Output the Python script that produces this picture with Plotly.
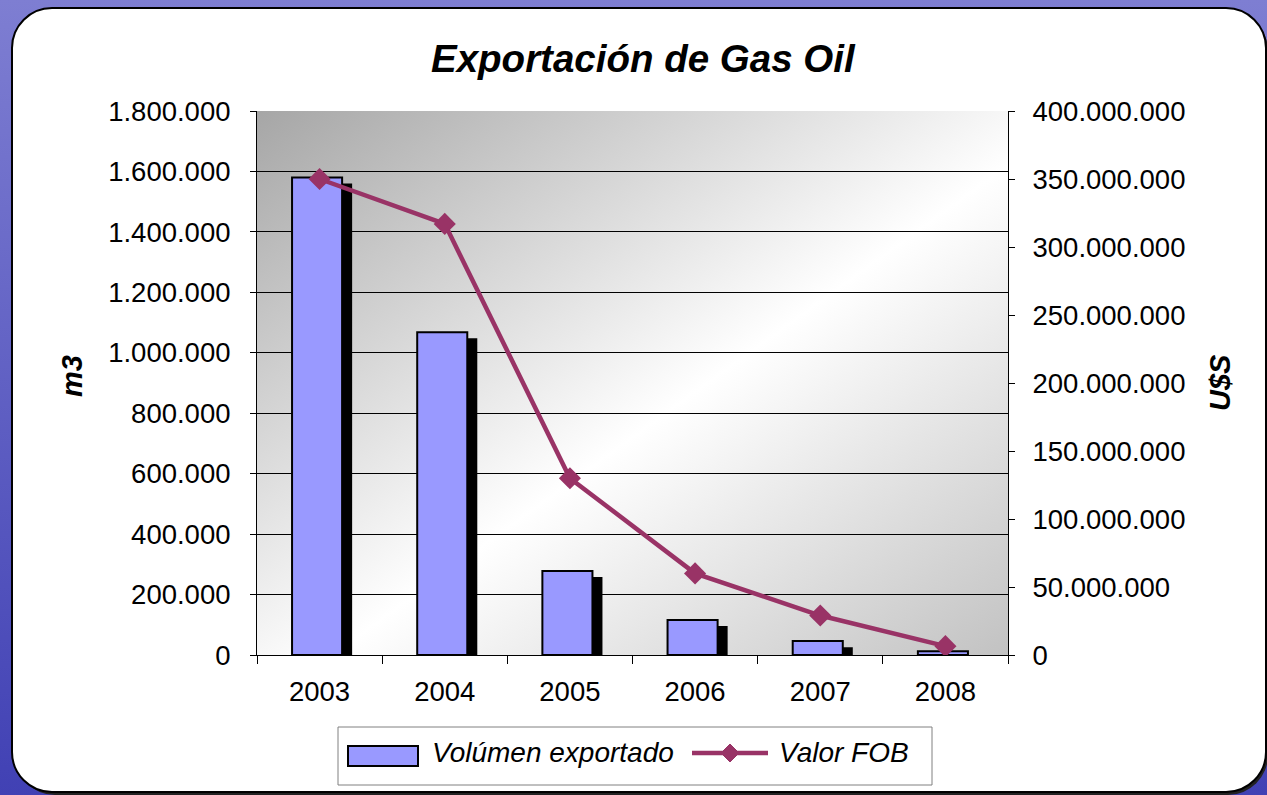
import base64
import plotly.graph_objects as go

# ---- data ----
years = ["2003", "2004", "2005", "2006", "2007", "2008"]
volumen_m3 = [1580000, 1068000, 278000, 116000, 46000, 12000]
valor_fob_usd = [350000000, 317000000, 130000000, 60000000, 29000000, 6500000]
title_text = "Exportación de Gas Oil"
legend_labels = ["Volúmen exportado", "Valor FOB"]
left_title = "m3"
right_title = "U$S"

W, H = 1267, 795
L, R, T, B = 257, 1008, 111, 655
PW, PH = R - L, B - T


def px(x):
    return (x - L) / PW


def py(y):
    return (B - y) / PH


FONT = "Liberation Sans, Arial, sans-serif"
BLUE = "#9999ff"
PLUM = "#993366"

svg = f"""<svg xmlns='http://www.w3.org/2000/svg' width='{W}' height='{H}' viewBox='0 0 {W} {H}'>
<defs>
<linearGradient id='bg' x1='0' y1='0' x2='0' y2='1'>
<stop offset='0' stop-color='#7e7ed2'/><stop offset='1' stop-color='#4141b4'/></linearGradient>
<linearGradient id='pa' x1='0' y1='0' x2='1' y2='1'>
<stop offset='0' stop-color='#a6a6a6'/><stop offset='0.55' stop-color='#ffffff'/><stop offset='1' stop-color='#c2c2c2'/></linearGradient>
</defs>
<rect x='0' y='0' width='{W}' height='{H}' fill='url(#bg)'/>
<rect x='15' y='11' width='1253' height='784' rx='40' ry='40' fill='#222'/>
<rect x='12' y='8' width='1254' height='784' rx='40' ry='40' fill='#ffffff' stroke='#000' stroke-width='2'/>
<rect x='{L}' y='{T}' width='{PW}' height='{PH}' fill='url(#pa)'/>
</svg>"""
src = "data:image/svg+xml;base64," + base64.b64encode(svg.encode()).decode()

fig = go.Figure()

# shadow bars
fig.add_trace(go.Bar(
    x=years, y=volumen_m3, base=[-20000] * len(years),
    width=0.4, offset=-0.14,
    marker=dict(color="#000000", line=dict(width=0)),
    showlegend=False, hoverinfo="skip",
))
# main bars
fig.add_trace(go.Bar(
    x=years, y=volumen_m3, name=legend_labels[0],
    width=0.4, offset=-0.22,
    marker=dict(color=BLUE, line=dict(color="#000000", width=2)),
    showlegend=False,
))
# FOB line
fig.add_trace(go.Scatter(
    x=years, y=valor_fob_usd, name=legend_labels[1], yaxis="y2",
    mode="lines+markers",
    line=dict(color=PLUM, width=4.5),
    marker=dict(symbol="diamond", size=17, color=PLUM),
    showlegend=False,
))

shapes = [
    # legend box
    dict(type="rect", xref="paper", yref="paper", x0=px(338), x1=px(932), y0=py(785), y1=py(727),
         line=dict(color="#808080", width=1), fillcolor="#ffffff"),
    # legend bar symbol
    dict(type="rect", xref="paper", yref="paper", x0=px(348), x1=px(418), y0=py(766), y1=py(746),
         line=dict(color="#000000", width=2), fillcolor=BLUE),
    # legend line symbol
    dict(type="line", xref="paper", yref="paper", x0=px(692), x1=px(768), y0=py(753), y1=py(753),
         line=dict(color=PLUM, width=4.5)),
    dict(type="path", xref="paper", yref="paper",
         path=f"M {px(730)},{py(744)} L {px(739)},{py(753)} L {px(730)},{py(762)} L {px(721)},{py(753)} Z",
         line=dict(color=PLUM, width=1), fillcolor=PLUM),
]

annotations = [
    dict(text=f"<b><i>{title_text}</i></b>", x=px(643), y=py(58), xref="paper", yref="paper",
         showarrow=False, xanchor="center", yanchor="middle", font=dict(size=38.5, family=FONT, color="#000")),
    dict(text=f"<b><i>{left_title}</i></b>", x=px(72), y=py(376), xref="paper", yref="paper",
         showarrow=False, textangle=-90, xanchor="center", yanchor="middle", font=dict(size=29, family=FONT, color="#000")),
    dict(text=f"<b><i>{right_title}</i></b>", x=px(1220), y=py(383), xref="paper", yref="paper",
         showarrow=False, textangle=-90, xanchor="center", yanchor="middle", font=dict(size=29, family=FONT, color="#000")),
    dict(text=f"<i>{legend_labels[0]}</i>", x=px(430), y=py(752), xref="paper", yref="paper",
         showarrow=False, xanchor="left", yanchor="middle", font=dict(size=28, family=FONT, color="#000")),
    dict(text=f"<i>{legend_labels[1]}</i>", x=px(777), y=py(752), xref="paper", yref="paper",
         showarrow=False, xanchor="left", yanchor="middle", font=dict(size=28, family=FONT, color="#000")),
]

fig.update_layout(
    width=W, height=H,
    margin=dict(l=L, r=W - R, t=T, b=H - B, pad=0),
    paper_bgcolor="#6a6ac8",
    plot_bgcolor="rgba(0,0,0,0)",
    separators=",.",
    barmode="overlay",
    showlegend=False,
    font=dict(family=FONT, size=27.5, color="#000"),
    images=[dict(source=src, xref="paper", yref="paper", x=-L / PW, y=B / PH,
                 sizex=W / PW, sizey=H / PH, sizing="stretch",
                 xanchor="left", yanchor="top", layer="below")],
    shapes=shapes,
    annotations=annotations,
    xaxis=dict(type="category", range=[-0.5, 5.5], showline=True, linecolor="#000", linewidth=1,
               ticks="outside", tickson="boundaries", ticklen=8, tickcolor="#000", tickwidth=1,
               showgrid=False, ticklabelstandoff=12, fixedrange=True),
    yaxis=dict(range=[0, 1800000], dtick=200000, tickformat=",.0f", showgrid=True,
               gridcolor="#000", gridwidth=1, showline=True, linecolor="#000", linewidth=1,
               ticks="outside", ticklen=6, tickcolor="#000", zeroline=False, ticklabelstandoff=14),
    yaxis2=dict(range=[0, 400000000], dtick=50000000, tickformat=",.0f", overlaying="y", side="right",
                showgrid=False, showline=True, linecolor="#000", linewidth=1,
                ticks="outside", ticklen=6, tickcolor="#000", zeroline=False, ticklabelstandoff=12),
)

fig.write_html(
    "out.html",
    config={"displayModeBar": False},
    post_script="document.body.style.margin='0';document.body.style.overflow='hidden';"
                "document.body.style.background='#6a6ac8';",
)
